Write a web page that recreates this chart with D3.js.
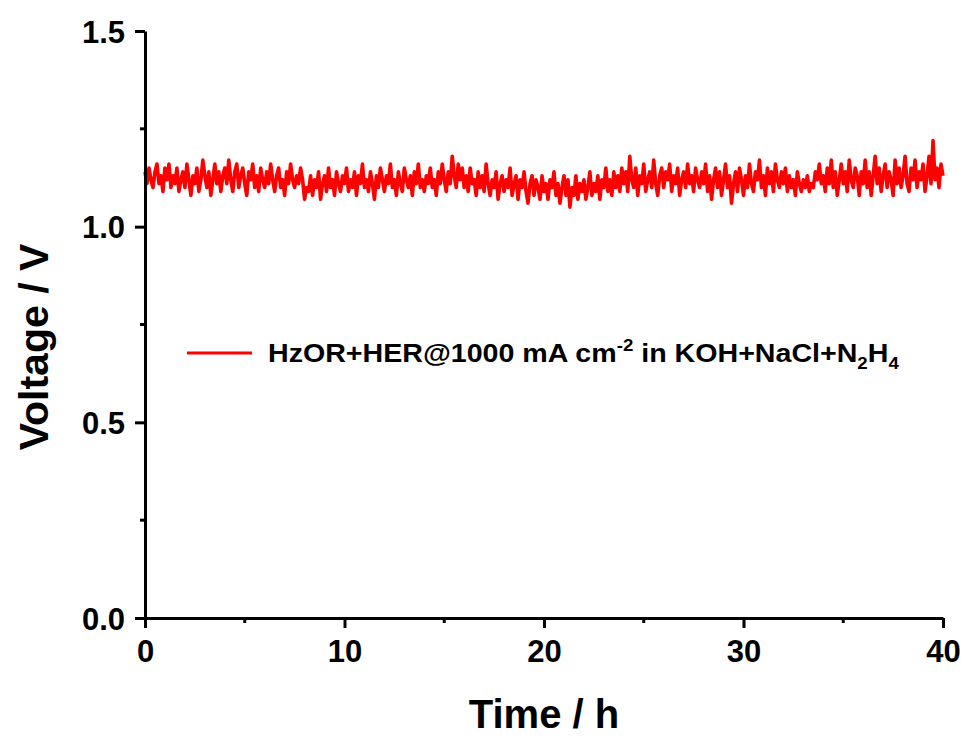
<!DOCTYPE html>
<html>
<head>
<meta charset="utf-8">
<script src="https://cdn.jsdelivr.net/npm/d3@7"></script>
<style>
  body { margin: 0; background: #fff; }
  svg text { font-family: "Liberation Sans", Arial, sans-serif; font-weight: bold; }
</style>
</head>
<body>
<script>
// voltage, every 0.1 h from 0 to 40 h
const voltage = [
  1.14,1.11,1.15,1.12,1.10,1.14,1.16,1.11,1.13,1.09,1.15,1.12,1.16,1.10,1.13,1.11,1.15,1.09,1.12,1.14,
  1.10,1.16,1.12,1.08,1.13,1.11,1.15,1.09,1.12,1.17,1.13,1.10,1.14,1.08,1.12,1.16,1.11,1.14,1.09,1.13,
  1.15,1.11,1.17,1.12,1.09,1.14,1.16,1.10,1.13,1.15,1.11,1.08,1.14,1.12,1.16,1.10,1.13,1.09,1.15,1.12,
  1.10,1.14,1.11,1.16,1.12,1.09,1.13,1.15,1.10,1.12,1.08,1.14,1.11,1.16,1.12,1.10,1.13,1.11,1.15,1.12,
  1.07,1.10,1.09,1.13,1.08,1.12,1.10,1.14,1.07,1.11,1.13,1.09,1.15,1.10,1.12,1.08,1.14,1.11,1.09,1.13,
  1.11,1.15,1.09,1.12,1.10,1.14,1.08,1.13,1.11,1.16,1.10,1.12,1.09,1.14,1.11,1.07,1.13,1.10,1.15,1.12,
  1.09,1.13,1.11,1.16,1.10,1.12,1.08,1.14,1.11,1.09,1.15,1.12,1.10,1.13,1.08,1.14,1.11,1.16,1.10,1.12,
  1.09,1.13,1.11,1.15,1.10,1.12,1.08,1.14,1.11,1.16,1.12,1.09,1.14,1.11,1.18,1.13,1.10,1.16,1.12,1.15,
  1.10,1.13,1.09,1.15,1.11,1.12,1.08,1.14,1.10,1.13,1.09,1.16,1.11,1.08,1.12,1.10,1.14,1.07,1.11,1.13,
  1.09,1.12,1.10,1.15,1.08,1.11,1.13,1.07,1.12,1.10,1.14,1.09,1.06,1.11,1.13,1.08,1.12,1.10,1.07,1.13,
  1.09,1.11,1.07,1.12,1.10,1.14,1.08,1.11,1.06,1.10,1.13,1.08,1.12,1.05,1.10,1.08,1.13,1.07,1.11,1.09,
  1.12,1.07,1.10,1.14,1.08,1.11,1.09,1.13,1.07,1.12,1.10,1.15,1.09,1.12,1.08,1.14,1.10,1.13,1.09,1.15,
  1.11,1.14,1.09,1.18,1.12,1.10,1.15,1.08,1.13,1.11,1.16,1.09,1.12,1.14,1.10,1.17,1.11,1.08,1.13,1.15,
  1.10,1.14,1.12,1.16,1.09,1.13,1.11,1.15,1.08,1.12,1.14,1.10,1.16,1.11,1.13,1.09,1.15,1.12,1.10,1.14,
  1.11,1.16,1.09,1.13,1.07,1.12,1.15,1.10,1.14,1.08,1.12,1.16,1.10,1.13,1.06,1.11,1.14,1.09,1.15,1.12,
  1.08,1.13,1.10,1.16,1.11,1.09,1.14,1.12,1.17,1.10,1.13,1.08,1.15,1.11,1.14,1.09,1.16,1.12,1.10,1.14,
  1.11,1.15,1.09,1.13,1.10,1.12,1.08,1.14,1.11,1.09,1.12,1.10,1.13,1.09,1.11,1.10,1.14,1.12,1.16,1.11,
  1.13,1.09,1.15,1.11,1.17,1.10,1.14,1.08,1.12,1.16,1.11,1.14,1.09,1.17,1.12,1.10,1.15,1.13,1.08,1.14,
  1.11,1.17,1.10,1.14,1.08,1.13,1.18,1.11,1.15,1.09,1.13,1.16,1.10,1.14,1.12,1.08,1.17,1.11,1.15,1.10,
  1.13,1.18,1.11,1.09,1.15,1.12,1.17,1.10,1.14,1.12,1.16,1.09,1.13,1.18,1.11,1.22,1.12,1.15,1.10,1.16,
  1.13
];
const timeStep = 0.1;
const xTicks = [0, 10, 20, 30, 40];
const xMinor = [5, 15, 25, 35];
const yTicks = [0.0, 0.5, 1.0, 1.5];
const yMinor = [0.25, 0.75, 1.25];
const legendLabel = "HzOR+HER@1000 mA cm";

const width = 964, height = 736;
const margin = { top: 31, right: 21, bottom: 118, left: 145 };

const svg = d3.select("body").append("svg")
    .attr("width", width)
    .attr("height", height);

const x = d3.scaleLinear()
    .domain([0, 40])
    .range([margin.left, width - margin.right]);

const y = d3.scaleLinear()
    .domain([0, 1.5])
    .range([height - margin.bottom, margin.top]);

const data = voltage.map((v, i) => ({ t: i * timeStep, v: v }));

// trace
svg.append("path")
    .datum(data)
    .attr("fill", "none")
    .attr("stroke", "#ff0000")
    .attr("stroke-width", 3.6)
    .attr("stroke-linejoin", "round")
    .attr("d", d3.line().x(d => x(d.t)).y(d => y(d.v)));

// x axis
const xAxis = svg.append("g")
    .attr("transform", "translate(0," + y(0) + ")");
xAxis.call(d3.axisBottom(x).tickValues(xTicks).tickFormat(d3.format("d")).tickSize(10).tickSizeOuter(0).tickPadding(10));
xAxis.append("g").selectAll("line")
    .data(xMinor)
    .enter().append("line")
    .attr("x1", d => x(d)).attr("x2", d => x(d))
    .attr("y1", 0).attr("y2", 5)
    .attr("stroke", "#000").attr("stroke-width", 3);

// y axis
const yAxis = svg.append("g")
    .attr("transform", "translate(" + x(0) + ",0)");
yAxis.call(d3.axisLeft(y).tickValues(yTicks).tickFormat(d3.format(".1f")).tickSize(10).tickSizeOuter(0).tickPadding(10));
yAxis.append("g").selectAll("line")
    .data(yMinor)
    .enter().append("line")
    .attr("y1", d => y(d)).attr("y2", d => y(d))
    .attr("x1", 0).attr("x2", -5)
    .attr("stroke", "#000").attr("stroke-width", 3);

svg.selectAll(".domain").attr("stroke", "#000").attr("stroke-width", 3);
svg.selectAll(".tick line").attr("stroke", "#000").attr("stroke-width", 3);
svg.selectAll(".tick text")
    .attr("fill", "#000")
    .attr("font-size", "31px")
    .attr("font-family", "Liberation Sans, Arial, sans-serif")
    .attr("font-weight", "bold");
xAxis.selectAll(".tick text").attr("dy", "0.78em");
yAxis.selectAll(".tick text").attr("dy", "0.36em");

// axis titles
svg.append("text")
    .attr("x", (x(0) + x(40)) / 2)
    .attr("y", 728)
    .attr("text-anchor", "middle")
    .attr("font-size", "40px")
    .text("Time / h");

svg.append("text")
    .attr("transform", "translate(48,347) rotate(-90)")
    .attr("text-anchor", "middle")
    .attr("font-size", "41px")
    .text("Voltage / V");

// legend
svg.append("line")
    .attr("x1", 187).attr("x2", 252)
    .attr("y1", 353).attr("y2", 353)
    .attr("stroke", "#ff0000")
    .attr("stroke-width", 2.8);

const leg = svg.append("text")
    .attr("transform", "translate(268,362) scale(1.1,1)")
    .attr("font-size", "26px")
    .attr("fill", "#000");
leg.append("tspan").text(legendLabel);
leg.append("tspan").attr("font-size", "17px").attr("dy", -11).text("-2");
leg.append("tspan").attr("dy", 11).text(" in KOH+NaCl+N");
leg.append("tspan").attr("font-size", "17px").attr("dy", 7).text("2");
leg.append("tspan").attr("dy", -7).text("H");
leg.append("tspan").attr("font-size", "17px").attr("dy", 7).text("4");
</script>
</body>
</html>
